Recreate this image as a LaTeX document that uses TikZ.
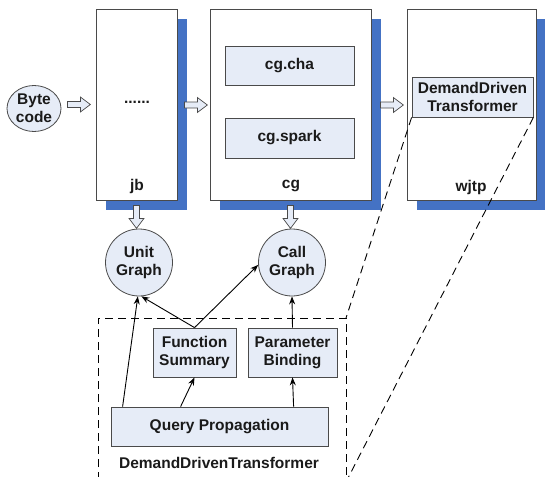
\documentclass[tikz,border=0pt]{standalone}
\usepackage{fontspec}
\setmainfont{Liberation Sans}
\usetikzlibrary{shapes.geometric,shadows,arrows.meta}
\definecolor{boxfill}{HTML}{E6ECF7}
\definecolor{shadowblue}{HTML}{4472C4}
\definecolor{edgegray}{HTML}{4A4A4A}
\definecolor{textdark}{HTML}{1A1A1A}
\begin{document}
\begin{tikzpicture}[x=1pt,y=-1pt,
  font=\fontsize{15.5}{18}\selectfont\bfseries,
  text=textdark,
  phase/.style={draw=edgegray, line width=0.8pt, fill=white, inner sep=0pt,
    drop shadow={shadow xshift=10pt, shadow yshift=-10pt, fill=shadowblue, opacity=1}},
  inner/.style={draw=edgegray, line width=0.8pt, fill=boxfill, inner sep=0pt, align=center},
  data/.style={circle, draw=edgegray, line width=0.8pt, fill=boxfill, inner sep=0pt,
    minimum size=67pt, align=center},
  plain/.style={inner sep=0pt, align=center},
  link/.style={draw=black, line width=0.9pt, -{Stealth[length=8pt,width=6pt]}},
  zoomline/.style={draw=black, line width=0.9pt, dash pattern=on 8pt off 5pt},
  hollow/.pic={\draw[edgegray, line width=0.7pt, fill=boxfill, line join=miter]
    (0,-3) -- (13,-3) -- (13,-7.5) -- (23,0) -- (13,7.5) -- (13,3) -- (0,3) -- cycle;}
]
\useasboundingbox (0,0) rectangle (545,476);

% phase boxes with blue drop shadows
\node[phase, minimum width=81pt, minimum height=191pt] (jb) at (136.5,104.5) {};
\node[phase, minimum width=161pt, minimum height=191pt] (cg) at (290.5,104.5) {};
\node[phase, minimum width=129pt, minimum height=191pt] (wjtp) at (471.5,104.5) {};

\node[plain] (jblabel) at (137,186) {jb};
\node[plain] (jbdots) at (137,102) {......};
\node[plain] (cglabel) at (291,186) {cg};
\node[plain] (wjtplabel) at (471,187) {wjtp};

% packs inside the phases
\node[inner, minimum width=129pt, minimum height=39pt] (cha) at (289.5,65.5) {cg.cha};
\node[inner, minimum width=129pt, minimum height=40pt] (spark) at (289.5,138) {cg.spark};
\node[inner, minimum width=121pt, minimum height=40pt] (ddt) at (472.5,97) {DemandDriven\\Transformer};

% input and intermediate representations
\node[ellipse, draw=edgegray, line width=0.8pt, fill=boxfill, inner sep=0pt,
  minimum width=54pt, minimum height=46pt, align=center] (bc) at (34,108.5) {Byte\\code};
\node[data] (ug) at (139,262.5) {Unit\\Graph};
\node[data] (cgr) at (292,262.5) {Call\\Graph};

% flow between phases
\pic at ([xshift=6pt]bc.east |- jb.west) {hollow};
\pic at ([xshift=7pt,yshift=-0.5pt]jb.east) {hollow};
\pic at ([xshift=9pt,yshift=-0.5pt]cg.east) {hollow};
\pic[rotate=-90] at ([yshift=-5pt]jb.south) {hollow};
\pic[rotate=-90] at ([yshift=-5pt]cg.south) {hollow};

% the DemandDrivenTransformer in detail
\coordinate (dtl) at (98,318);
\coordinate (dtr) at (346,318);
\coordinate (dbl) at (98,480);
\coordinate (dbr) at (346,480);
\draw[zoomline] (dbl) -- (dtl) -- (dtr) -- (dbr);
\node[plain] (ddtlabel) at (219,463) {DemandDrivenTransformer};

\node[inner, minimum width=83pt, minimum height=49pt] (fs) at (194.5,352.5) {Function\\Summary};
\node[inner, minimum width=89pt, minimum height=49pt] (pb) at (292.5,352.5) {Parameter\\Binding};
\node[inner, minimum width=217pt, minimum height=39pt] (qp) at (219.5,426.5) {Query Propagation};

\draw[link] ([xshift=12pt]qp.north west) -- (ug.-92);
\draw[link] (fs.north) -- (ug.-86);
\draw[link] (fs.north) -- (cgr.184);
\draw[link] (pb.north) -- (cgr.south);
\draw[link] ([xshift=70pt]qp.north west) -- (fs.south);
\draw[link] ([xshift=183pt]qp.north west) -- (pb.south);

% zoom lines from the pack to its detail
\coordinate (zend) at (347,480);
\draw[zoomline] (ddt.south west) -- (dtr);
\draw[zoomline] (ddt.south east) -- (zend);
\end{tikzpicture}
\end{document}
